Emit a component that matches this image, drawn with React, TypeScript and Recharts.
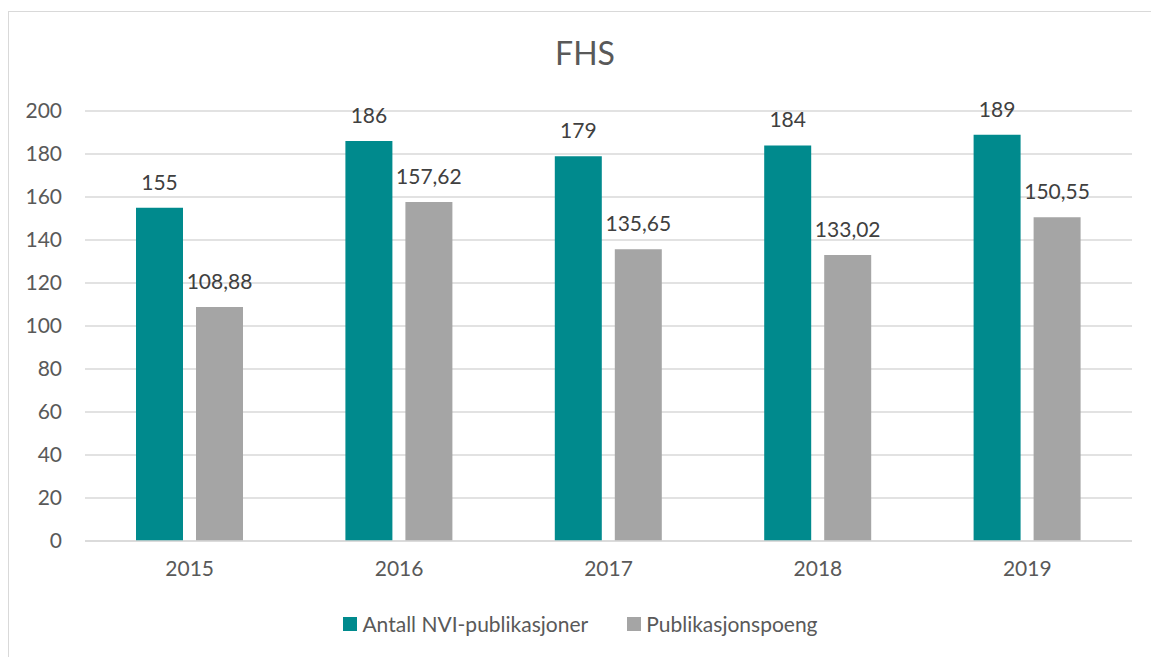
import React from 'react';
import { BarChart, Bar, XAxis, YAxis, CartesianGrid, Legend, LabelList } from 'recharts';

const years = ['2015', '2016', '2017', '2018', '2019'];
const antallNvi = [155, 186, 179, 184, 189];
const publikasjonspoeng = [108.88, 157.62, 135.65, 133.02, 150.55];
const yTicks = [0, 20, 40, 60, 80, 100, 120, 140, 160, 180, 200];
const seriesNames = ['Antall NVI-publikasjoner', 'Publikasjonspoeng'];
const seriesColors = ['#008A8D', '#A5A5A5'];

const data = years.map((y, i) => ({ year: y, a: antallNvi[i], b: publikasjonspoeng[i] }));

const FONT = 'Lato, "DejaVu Sans", sans-serif';

const fmt = (v: any) => {
  const n = Number(v);
  if (Number.isInteger(n)) return String(n);
  return n.toFixed(2).replace('.', ',');
};

const LegendContent = () => (
  <div
    style={{
      display: 'flex',
      justifyContent: 'center',
      alignItems: 'center',
      width: 1161,
      fontFamily: FONT,
      fontSize: 21,
      color: '#595959',
    }}
  >
    {seriesNames.map((n, i) => (
      <div key={n} style={{ display: 'flex', alignItems: 'center', marginRight: i === 0 ? 39 : 0 }}>
        <div style={{ width: 14, height: 14, background: seriesColors[i], marginRight: 5 }} />
        <span>{n}</span>
      </div>
    ))}
  </div>
);

export default function App() {
  return (
    <div style={{ position: 'absolute', left: 0, top: 0, width: 1151, height: 657, overflow: 'hidden', background: '#fff' }}>
      <div
        style={{
          position: 'absolute',
          left: 8,
          top: 11,
          width: 1200,
          height: 700,
          borderLeft: '1.5px solid #D9D9D9',
          borderTop: '1.5px solid #D9D9D9',
        }}
      />
      <div
        style={{
          position: 'absolute',
          left: 385,
          width: 400,
          top: 33,
          textAlign: 'center',
          fontFamily: FONT,
          fontSize: 32,
          color: '#595959',
          lineHeight: '40px',
        }}
      >
        FHS
      </div>
      <div style={{ position: 'absolute', left: 0, top: 0 }}>
        <BarChart
          width={1151}
          height={657}
          data={data}
          margin={{ top: 111, right: 19, left: 0, bottom: 86 }}
          barSize={47}
          barGap={13}
        >
          <CartesianGrid vertical={false} stroke="#D9D9D9" strokeWidth={1.5} />
          <XAxis
            dataKey="year"
            height={30}
            tickLine={false}
            axisLine={{ stroke: '#D9D9D9', strokeWidth: 1.5 }}
            tickSize={0}
            tickMargin={20}
            tick={{ fill: '#595959', fontSize: 21, fontFamily: FONT }}
          />
          <YAxis
            width={85}
            domain={[0, 200]}
            ticks={yTicks}
            interval={0}
            axisLine={false}
            tickLine={false}
            tickSize={0}
            tickMargin={23}
            tick={{ fill: '#595959', fontSize: 21, fontFamily: FONT }}
          />
          <Legend
            verticalAlign="middle"
            align="center"
            layout="horizontal"
            content={LegendContent}
            wrapperStyle={{ position: 'absolute', top: 611, left: 0, width: 1161 }}
          />
          <Bar dataKey="a" name={seriesNames[0]} fill={seriesColors[0]} isAnimationActive={false}>
            <LabelList dataKey="a" position="top" offset={18} formatter={fmt} fill="#404040" fontSize={21} fontFamily={FONT} />
          </Bar>
          <Bar dataKey="b" name={seriesNames[1]} fill={seriesColors[1]} isAnimationActive={false}>
            <LabelList dataKey="b" position="top" offset={18} formatter={fmt} fill="#404040" fontSize={21} fontFamily={FONT} />
          </Bar>
        </BarChart>
      </div>
    </div>
  );
}
